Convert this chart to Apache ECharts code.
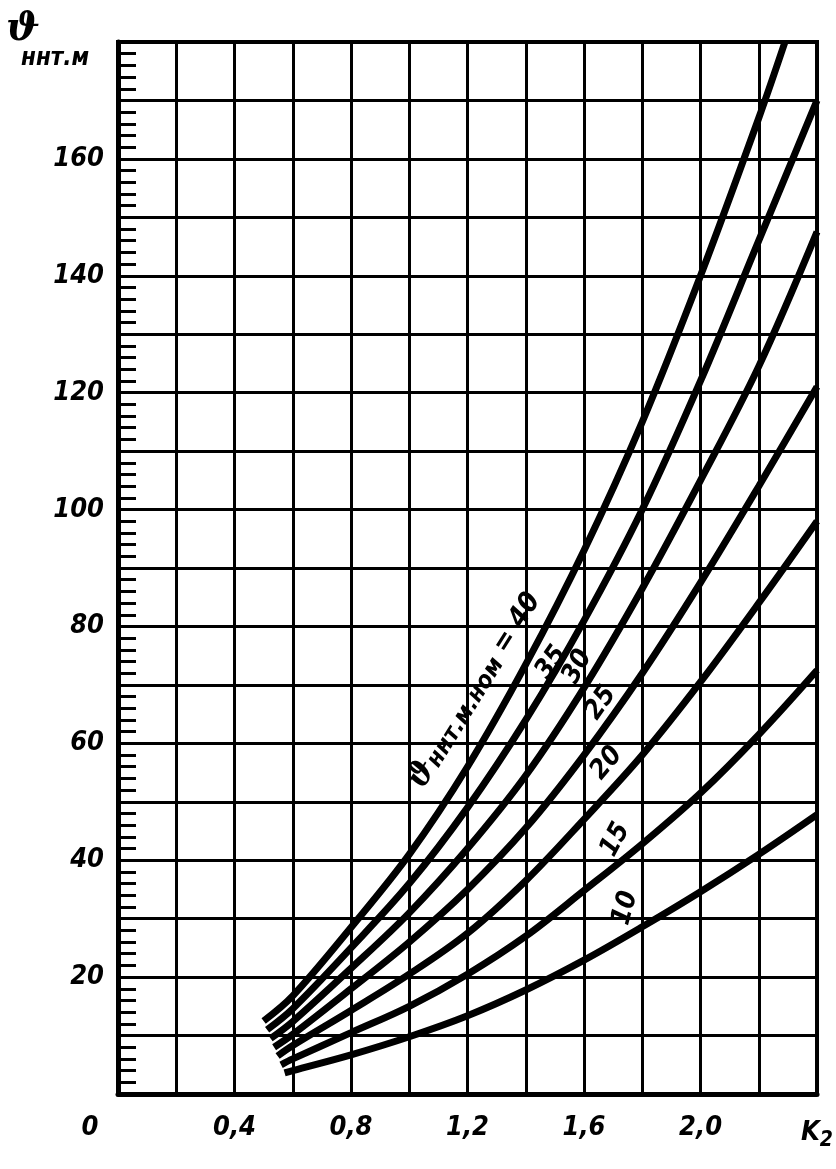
<!DOCTYPE html>
<html>
<head>
<meta charset="utf-8">
<script src="https://cdn.jsdelivr.net/npm/echarts@6/dist/echarts.min.js"></script>
<style>
  html, body { margin: 0; padding: 0; background: #fff; }
  #chart { width: 836px; height: 1169px; }
</style>
</head>
<body>
<div id="chart"></div>
<script>
// K2 values and temperature rise (ϑннт.м.ном = 40 ... 10)
const k40 = [0.500, 0.6, 0.8, 1.0, 1.2, 1.4, 1.6, 1.8, 2.0, 2.2, 2.29];
const t40 = [12.5, 16.8, 28.5, 41, 56, 73.5, 93, 115, 140, 167, 180];
const k35 = [0.512, 0.6, 0.8, 1.0, 1.2, 1.4, 1.6, 1.8, 2.0, 2.2, 2.4];
const t35 = [11.0, 14.6, 25, 36, 49, 64, 81, 100, 122, 146, 170];
const k30 = [0.524, 0.6, 0.8, 1.0, 1.2, 1.4, 1.6, 1.8, 2.0, 2.2, 2.4];
const t30 = [9.5, 12.4, 21.5, 31, 42, 54.5, 69.5, 86.5, 105, 124.5, 147.5];
const k25 = [0.536, 0.6, 0.8, 1.0, 1.2, 1.4, 1.6, 1.8, 2.0, 2.2, 2.4];
const t25 = [8.0, 10.2, 18, 26, 35, 45.5, 58, 72, 87.5, 104, 121];
const k20 = [0.548, 0.6, 0.8, 1.0, 1.2, 1.4, 1.6, 1.8, 2.0, 2.2, 2.4];
const t20 = [6.5, 8.3, 14.3, 20.5, 27.5, 36.5, 47, 58, 70.5, 84, 98];
const k15 = [0.560, 0.6, 0.8, 1.0, 1.2, 1.4, 1.6, 1.8, 2.0, 2.2, 2.4];
const t15 = [5.0, 6.0, 10.5, 15, 20.5, 27, 34.8, 42.8, 51.5, 61.5, 72.5];
const k10 = [0.572, 0.6, 0.8, 1.0, 1.2, 1.4, 1.6, 1.8, 2.0, 2.2, 2.4];
const t10 = [3.6, 4.0, 6.7, 9.8, 13.4, 17.8, 22.9, 28.6, 34.6, 41.0, 47.8];

const curveK = [k40, k35, k30, k25, k20, k15, k10];
const curveT = [t40, t35, t30, t25, t20, t15, t10];

// tick labels
const xLabelValues = [0.4, 0.8, 1.2, 1.6, 2.0];
const xLabelTexts = ['0,4', '0,8', '1,2', '1,6', '2,0'];
const yLabelValues = [20, 40, 60, 80, 100, 120, 140, 160];

// curve labels (placed in data coordinates)
const labelTexts = ['40', '35', '30', '25', '20', '15', '10'];
const labelK = [1.225, 1.488, 1.578, 1.658, 1.678, 1.708, 1.742];
const labelT = [69.0, 73.8, 73.1, 66.9, 56.6, 43.5, 31.8];
const labelAngle = [58, 55, 62, 55, 50, 62, 75];

const FONT = "'Liberation Sans Narrow', 'DejaVu Sans Condensed', sans-serif";

const chart = echarts.init(document.getElementById('chart'), null, { renderer: 'canvas' });

const series = curveK.map((ks, i) => ({
  type: 'line',
  smooth: 0.35,
  showSymbol: false,
  silent: true,
  z: 5,
  lineStyle: { color: '#000', width: 7 },
  data: ks.map((k, j) => [k, curveT[i][j]])
}));

chart.setOption({
  backgroundColor: '#fff',
  animation: false,
  grid: {
    left: 118, right: 10, top: 42, bottom: 75,
    show: true, borderColor: '#000', borderWidth: 4
  },
  xAxis: {
    type: 'value',
    min: 0, max: 2.4, interval: 0.2,
    axisLine: { lineStyle: { color: '#000', width: 5 } },
    axisTick: { show: false },
    splitLine: { show: true, lineStyle: { color: '#000', width: 3 } },
    axisLabel: {
      margin: 20,
      color: '#000',
      fontFamily: FONT, fontWeight: 'bold', fontStyle: 'italic', fontSize: 27,
      formatter: function (v) {
        const r = Math.round(v * 10) / 10;
        if (r === 0) return '{z|0}';
        if (r === 2.4) return '{k|K}{s|2}';
        const idx = xLabelValues.indexOf(r);
        return idx >= 0 ? xLabelTexts[idx] : '';
      },
      rich: {
        z: { fontFamily: FONT, fontWeight: 'bold', fontStyle: 'italic', fontSize: 27, padding: [0, 56, 0, 0] },
        k: { fontFamily: FONT, fontWeight: 'bold', fontStyle: 'italic', fontSize: 27 },
        s: { fontFamily: FONT, fontWeight: 'bold', fontStyle: 'italic', fontSize: 21, padding: [16, 0, 0, 0] }
      }
    }
  },
  yAxis: {
    type: 'value',
    min: 0, max: 180, interval: 10,
    axisLine: { lineStyle: { color: '#000', width: 5 } },
    axisTick: { show: true, inside: true, length: 18, lineStyle: { color: '#000', width: 3 } },
    minorTick: { show: true, splitNumber: 5, length: 18, lineStyle: { color: '#000', width: 3 } },
    splitLine: { show: true, lineStyle: { color: '#000', width: 3 } },
    axisLabel: {
      margin: 14,
      color: '#000',
      fontFamily: FONT, fontWeight: 'bold', fontStyle: 'italic', fontSize: 27,
      formatter: v => (yLabelValues.indexOf(v) >= 0 ? String(v) : '')
    }
  },
  series: series
});

// curve labels positioned through the chart's own scales
const labelGraphics = labelTexts.map((txt, i) => {
  const p = chart.convertToPixel({ gridIndex: 0 }, [labelK[i], labelT[i]]);
  const first = i === 0;
  return {
    type: 'text',
    x: p[0], y: p[1],
    rotation: labelAngle[i] * Math.PI / 180,
    z: 10,
    style: {
      text: first ? '{a|ϑ}{b|ннт.м.ном}{c| = 40}' : txt,
      fill: '#000',
      align: 'center',
      verticalAlign: 'middle',
      font: "italic bold 27px " + FONT,
      rich: first ? {
        a: { font: "italic bold 32px 'DejaVu Serif', serif", fill: '#000' },
        b: { font: "italic bold 24px " + FONT, fill: '#000', padding: [8, 0, 0, 0] },
        c: { font: "italic bold 28px " + FONT, fill: '#000' }
      } : undefined
    }
  };
});

chart.setOption({
  graphic: [
    {
      type: 'text', left: 6, top: 10,
      style: { text: 'ϑ', fill: '#000', font: "italic bold 40px 'DejaVu Serif', serif" }
    },
    {
      type: 'text', left: 21, top: 47,
      style: { text: 'ннт.м', fill: '#000', font: "italic bold 24px " + FONT }
    }
  ].concat(labelGraphics)
});
</script>
</body>
</html>
